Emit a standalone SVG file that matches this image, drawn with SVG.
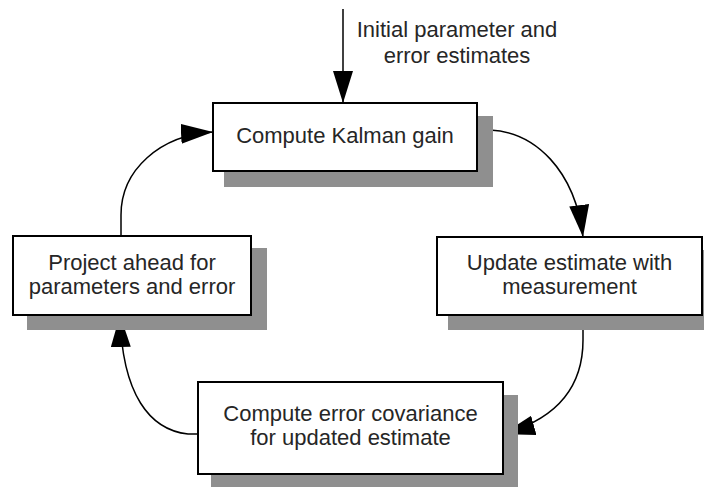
<svg xmlns="http://www.w3.org/2000/svg" width="704" height="487" viewBox="0 0 704 487">
  <style>
    .shadow { fill: #8f8f8f; }
    .box { fill: #ffffff; stroke: #000000; stroke-width: 2; }
    .label { font-family: "Liberation Sans", Arial, sans-serif; font-size: 22px; fill: #262626; text-anchor: middle; }
    .link { fill: none; stroke: #000000; stroke-width: 1.5; marker-end: url(#head); }
  </style>
  <defs>
    <marker id="head" markerUnits="userSpaceOnUse" markerWidth="34" markerHeight="22" refX="32" refY="10" orient="auto">
      <path d="M0,0 L32,10 L0,20 Z" fill="#000000"/>
    </marker>
  </defs>

  <rect width="704" height="487" fill="#ffffff"/>

  <!-- connectors -->
  <g id="connectors">
    <path class="link" d="M343,9 L343,103"/>
    <path class="link" d="M477,130 L490,130 C535,132 575,170 583,237"/>
    <path class="link" d="M583,315 L583,340 C583,385 560,418 503,434"/>
    <path class="link" d="M198,434 L188,434 C150,430 122,395 120,315"/>
    <path class="link" d="M121,236 L121,215 C121,170 160,135 213,132"/>
  </g>

  <!-- input label -->
  <g id="input-label">
    <text class="label" x="457" y="37">Initial parameter and</text>
    <text class="label" x="457" y="63">error estimates</text>
  </g>

  <!-- Compute Kalman gain -->
  <g id="kalman-gain">
    <rect class="shadow" x="224" y="116" width="269" height="71"/>
    <rect class="box" x="213" y="103" width="264" height="68"/>
    <text class="label" x="345" y="143">Compute Kalman gain</text>
  </g>

  <!-- Update estimate with measurement -->
  <g id="update-estimate">
    <rect class="shadow" x="448" y="250" width="270" height="80"/>
    <rect class="box" x="437" y="237" width="265" height="78"/>
    <text class="label" x="569.5" y="270">Update estimate with</text>
    <text class="label" x="569.5" y="294">measurement</text>
  </g>

  <!-- Compute error covariance -->
  <g id="error-covariance">
    <rect class="shadow" x="211" y="395" width="307" height="100"/>
    <rect class="box" x="198" y="382" width="305" height="92"/>
    <text class="label" x="350.5" y="421">Compute error covariance</text>
    <text class="label" x="350.5" y="445">for updated estimate</text>
  </g>

  <!-- Project ahead -->
  <g id="project-ahead">
    <rect class="shadow" x="27" y="248" width="240" height="82"/>
    <rect class="box" x="13" y="236" width="238" height="79"/>
    <text class="label" x="132" y="270">Project ahead for</text>
    <text class="label" x="132" y="294">parameters and error</text>
  </g>
</svg>
